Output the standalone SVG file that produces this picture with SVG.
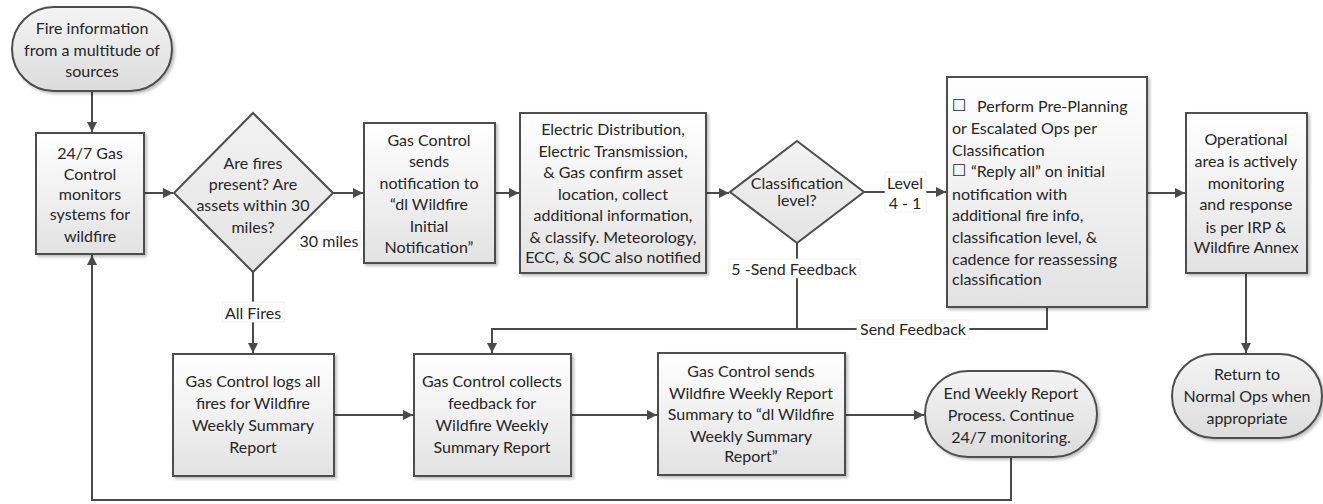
<svg xmlns="http://www.w3.org/2000/svg" width="1323" height="504" viewBox="0 0 1323 504">
<defs>
<linearGradient id="gBox" x1="0" y1="0" x2="0" y2="1">
<stop offset="0" stop-color="#ffffff"/>
<stop offset="1" stop-color="#e2e2e2"/>
</linearGradient>
<linearGradient id="gTerm" x1="0" y1="0" x2="0" y2="1">
<stop offset="0" stop-color="#f4f4f4"/>
<stop offset="1" stop-color="#dcdcdc"/>
</linearGradient>
<linearGradient id="gDia" x1="0" y1="0" x2="0" y2="1">
<stop offset="0" stop-color="#f2f2f2"/>
<stop offset="1" stop-color="#e4e4e4"/>
</linearGradient>
<filter id="sh" x="-10%" y="-10%" width="130%" height="130%">
<feDropShadow dx="2" dy="2" stdDeviation="1.5" flood-color="#000" flood-opacity="0.25"/>
</filter>
<marker id="arr" viewBox="0 0 10 10" refX="10" refY="5" markerWidth="10" markerHeight="10" markerUnits="userSpaceOnUse" orient="auto">
<path d="M0,0 L10,5 L0,10 Z" fill="#4a4a4a"/>
</marker>
</defs>
<style>
.box{fill:url(#gBox);stroke:#4d4d4d;stroke-width:2;filter:url(#sh)}
.term{fill:url(#gTerm);stroke:#4d4d4d;stroke-width:2;filter:url(#sh)}
.dia{fill:url(#gDia);stroke:#4d4d4d;stroke-width:2}
.t{font-family:Lato,"Open Sans","Liberation Sans",sans-serif;font-size:16px;fill:#262626;text-anchor:middle;dominant-baseline:central}
.tl{font-family:Lato,"Open Sans","Liberation Sans",sans-serif;font-size:16px;fill:#262626;text-anchor:start;dominant-baseline:central}
.cb{font-family:"DejaVu Sans",sans-serif;font-size:16px}
.c{fill:none;stroke:#4a4a4a;stroke-width:2}
.ca{fill:none;stroke:#4a4a4a;stroke-width:2;marker-end:url(#arr)}
.lbg{fill:#ffffff;stroke:#ececec;stroke-width:0.8}
</style>

<g id="connectors">
<path class="ca" d="M92,91 V132"/>
<path class="ca" d="M144,193 H173"/>
<path class="ca" d="M333,193 H363"/>
<path class="ca" d="M495,193 H519"/>
<path class="ca" d="M706,193 H729"/>
<path class="ca" d="M864,192 H946"/>
<path class="ca" d="M1147,193 H1185"/>
<path class="ca" d="M1246,273 V353"/>
<path class="ca" d="M253,272 V353"/>
<path class="ca" d="M334,415 H413"/>
<path class="ca" d="M571,415 H657"/>
<path class="ca" d="M845,415 H924"/>
<path class="ca" d="M797,243 V329 H492 V353"/>
<path class="c" d="M1047,307 V329 H797"/>
<path class="ca" d="M1011,457 V500 H92 V255"/>
<rect class="lbg" x="298" y="231" width="62" height="19"/>
<text class="t" x="329" y="240">30 miles</text>
<rect class="lbg" x="222" y="302" width="62" height="20"/>
<text class="t" x="253" y="312">All Fires</text>
<rect class="lbg" x="885" y="172" width="41" height="40"/>
<text class="t" x="905" y="182">Level</text>
<text class="t" x="905" y="202">4 - 1</text>
<rect class="lbg" x="729" y="259" width="131" height="19"/>
<text class="t" x="794" y="268">5 -Send Feedback</text>
<rect class="lbg" x="857" y="320" width="112" height="19"/>
<text class="t" x="913" y="328">Send Feedback</text>
</g>

<g id="start">
<rect class="term" x="12" y="7" width="160" height="84" rx="42" ry="42"/>
<text class="t" x="92" y="27">Fire information</text>
<text class="t" x="92" y="49">from a multitude of</text>
<text class="t" x="92" y="70">sources</text>
</g>

<g id="monitor">
<rect class="box" x="36" y="133" width="108" height="121"/>
<text class="t" x="90" y="152">24/7 Gas</text>
<text class="t" x="90" y="173">Control</text>
<text class="t" x="90" y="193">monitors</text>
<text class="t" x="90" y="213">systems for</text>
<text class="t" x="90" y="235">wildfire</text>
</g>

<g id="decision1">
<polygon class="dia" points="253,113 333,193 253,272 174,193"/>
<text class="t" x="253" y="162">Are fires</text>
<text class="t" x="253" y="183">present? Are</text>
<text class="t" x="253" y="204">assets within 30</text>
<text class="t" x="253" y="226">miles?</text>
</g>

<g id="notify">
<rect class="box" x="364" y="123" width="131" height="140"/>
<text class="t" x="429" y="139">Gas Control</text>
<text class="t" x="429" y="160">sends</text>
<text class="t" x="429" y="182">notification to</text>
<text class="t" x="429" y="203">“dl Wildfire</text>
<text class="t" x="429" y="225">Initial</text>
<text class="t" x="429" y="246">Notification”</text>
</g>

<g id="confirm">
<rect class="box" x="520" y="113" width="186" height="160"/>
<text class="t" x="613" y="128">Electric Distribution,</text>
<text class="t" x="613" y="150">Electric Transmission,</text>
<text class="t" x="613" y="171">&amp; Gas confirm asset</text>
<text class="t" x="613" y="193">location, collect</text>
<text class="t" x="613" y="214">additional information,</text>
<text class="t" x="613" y="236">&amp; classify. Meteorology,</text>
<text class="t" x="613" y="256">ECC, &amp; SOC also notified</text>
</g>

<g id="decision2">
<polygon class="dia" points="797,141 864,192 797,243 730,192"/>
<text class="t" x="797" y="182">Classification</text>
<text class="t" x="797" y="199">level?</text>
</g>

<g id="actions">
<rect class="box" x="947" y="77" width="200" height="230"/>
<text class="tl" x="952" y="105"><tspan class="cb">☐</tspan><tspan x="977">Perform Pre-Planning</tspan></text>
<text class="tl" x="952" y="127">or Escalated Ops per</text>
<text class="tl" x="952" y="149">Classification</text>
<text class="tl" x="952" y="170"><tspan class="cb">☐</tspan><tspan x="971">“Reply all” on initial</tspan></text>
<text class="tl" x="952" y="193">notification with</text>
<text class="tl" x="952" y="214">additional fire info,</text>
<text class="tl" x="952" y="236">classification level, &amp;</text>
<text class="tl" x="952" y="258">cadence for reassessing</text>
<text class="tl" x="952" y="278">classification</text>
</g>

<g id="operational">
<rect class="box" x="1186" y="113" width="121" height="160"/>
<text class="t" x="1246" y="138">Operational</text>
<text class="t" x="1246" y="160">area is actively</text>
<text class="t" x="1246" y="182">monitoring</text>
<text class="t" x="1246" y="203">and response</text>
<text class="t" x="1246" y="226">is per IRP &amp;</text>
<text class="t" x="1246" y="246">Wildfire Annex</text>
</g>

<g id="return">
<rect class="term" x="1172" y="354" width="150" height="84" rx="42" ry="42"/>
<text class="t" x="1247" y="373">Return to</text>
<text class="t" x="1247" y="395">Normal Ops when</text>
<text class="t" x="1247" y="417">appropriate</text>
</g>

<g id="logs">
<rect class="box" x="173" y="354" width="161" height="122"/>
<text class="t" x="253" y="380">Gas Control logs all</text>
<text class="t" x="253" y="402">fires for Wildfire</text>
<text class="t" x="253" y="424">Weekly Summary</text>
<text class="t" x="253" y="446">Report</text>
</g>

<g id="collects">
<rect class="box" x="414" y="354" width="157" height="122"/>
<text class="t" x="492" y="380">Gas Control collects</text>
<text class="t" x="492" y="402">feedback for</text>
<text class="t" x="492" y="424">Wildfire Weekly</text>
<text class="t" x="492" y="446">Summary Report</text>
</g>

<g id="sendweekly">
<rect class="box" x="658" y="353" width="187" height="122"/>
<text class="t" x="751" y="370">Gas Control sends</text>
<text class="t" x="751" y="392">Wildfire Weekly Report</text>
<text class="t" x="751" y="413">Summary to “dl Wildfire</text>
<text class="t" x="751" y="435">Weekly Summary</text>
<text class="t" x="751" y="455">Report”</text>
</g>

<g id="end">
<rect class="term" x="925" y="371" width="172" height="86" rx="43" ry="43"/>
<text class="t" x="1011" y="392">End Weekly Report</text>
<text class="t" x="1011" y="414">Process. Continue</text>
<text class="t" x="1011" y="436">24/7 monitoring.</text>
</g>
</svg>
